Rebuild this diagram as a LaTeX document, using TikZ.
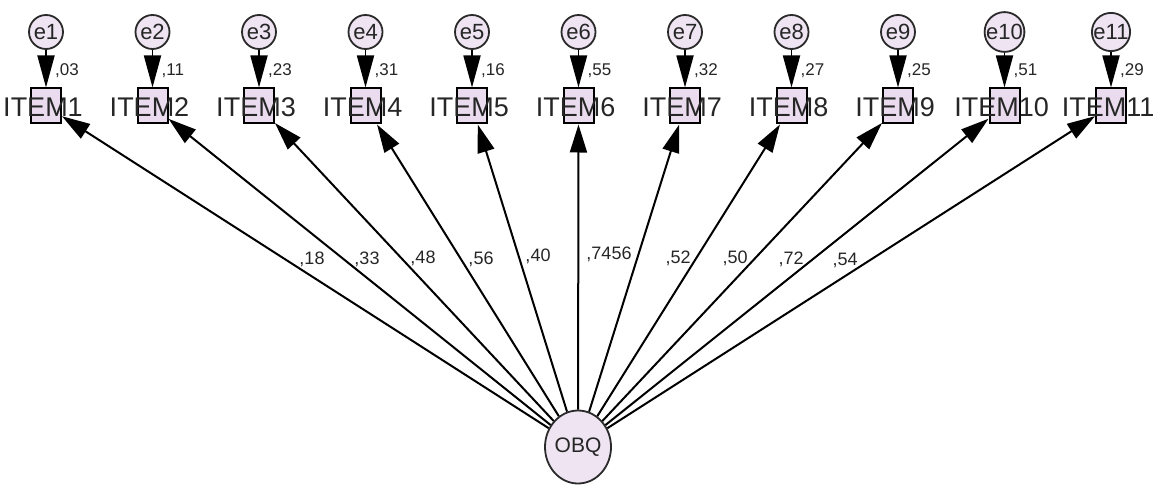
\documentclass[tikz,border=0pt]{standalone}
\usepackage{fontspec}
\setmainfont{Liberation Sans}
\usetikzlibrary{arrows.meta,shapes.geometric}
\definecolor{lav}{HTML}{EEE4F2}
\definecolor{lavbox}{HTML}{EADCEE}
\definecolor{edgegray}{HTML}{2A2A2A}
\tikzset{
  errnode/.style={circle,draw=edgegray,line width=1.8pt,fill=lav,minimum size=34pt,inner sep=0pt,font=\fontsize{22}{22}\selectfont,text=black!85},
  itembox/.style={rectangle,draw=black,line width=2pt,fill=lavbox,minimum width=30pt,minimum height=35pt,inner sep=0pt},
  itemlbl/.style={font=\fontsize{27}{27}\selectfont,text=black!85,inner sep=0pt},
  lat/.style={ellipse,draw=edgegray,line width=1.8pt,fill=lav,minimum width=62pt,minimum height=73pt,inner sep=0pt,font=\fontsize{21}{21}\selectfont,text=black!85},
  varlbl/.style={font=\fontsize{17}{17}\selectfont,text=black!85,inner sep=0pt,anchor=west},
  pathlbl/.style={font=\fontsize{18}{18}\selectfont,text=black!85,inner sep=0pt},
  errarrow/.style={-{Triangle[length=32pt,width=17pt]},line width=1.8pt},
  loadarrow/.style={-{Triangle[length=28pt,width=17pt]},line width=2pt},
}
\begin{document}
\begin{tikzpicture}[x=1pt,y=-1pt]
\useasboundingbox (0,0) rectangle (1155,486);
\node[lat] (OBQ) at (578,447) {OBQ};
\foreach \i/\v in {1/03,2/11,3/23,4/31,5/16,6/55,7/32,8/27,9/25,10/51,11/29}{
  \pgfmathsetmacro{\xx}{46+106.5*(\i-1)}
  \node[errnode] (e\i) at (\xx,32) {e\i};
  \node[itembox] (ITEM\i) at (\xx,106) {};
  \node[itemlbl] (L\i) at (\xx-3,107) {ITEM\i};
  \node[varlbl] (V\i) at (\xx+9,71) {,\v};
  \draw[errarrow] (e\i) -- (ITEM\i);
  \draw[loadarrow] (OBQ) -- (ITEM\i);
}
\node[pathlbl] (p1) at (312,259) {,18};
\node[pathlbl] (p2) at (367,259) {,33};
\node[pathlbl] (p3) at (423,258) {,48};
\node[pathlbl] (p4) at (481,259) {,56};
\node[pathlbl] (p5) at (538,256) {,40};
\node[pathlbl] (p6) at (609,254) {,7456};
\node[pathlbl] (p7) at (678,258) {,52};
\node[pathlbl] (p8) at (735,258) {,50};
\node[pathlbl] (p9) at (791,259) {,72};
\node[pathlbl] (p10) at (845,260) {,54};
\end{tikzpicture}
\end{document}
